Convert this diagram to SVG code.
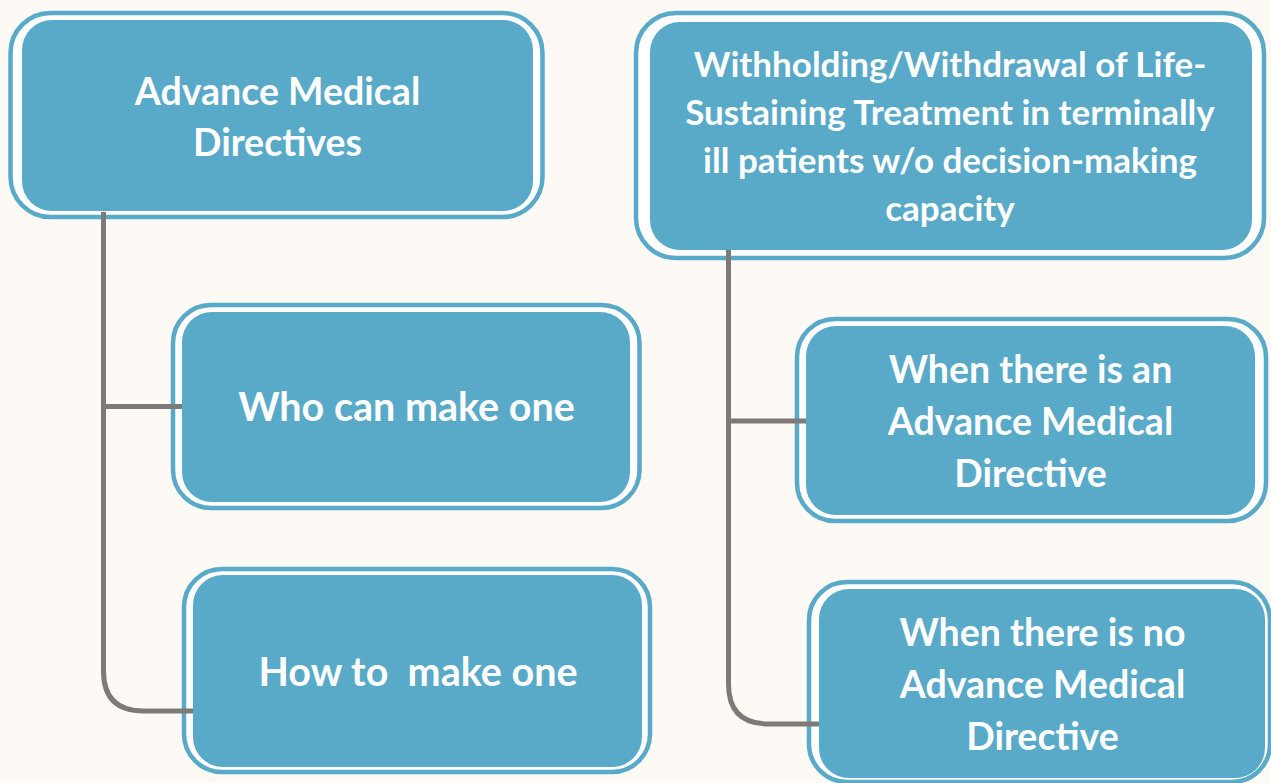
<svg xmlns="http://www.w3.org/2000/svg" width="1271" height="783" viewBox="0 0 1271 783">
<style>
.ring{fill:#ffffff;stroke:#59a9c8;stroke-width:4.5}
.fill{fill:#59a9c8}
.conn{fill:none;stroke:#7e7a77;stroke-width:5}
.t{font-family:Lato,"Noto Sans",sans-serif;font-weight:bold;fill:#ffffff;text-anchor:middle;white-space:pre}
.t1{font-size:37.5px}
.t2{font-size:35px}
.t3{font-size:39.5px}
</style>
<rect x="0" y="0" width="1271" height="783" fill="#fdfaf5"/>
<g id="rings">
<rect class="ring" x="10.5" y="13" width="532" height="204" rx="40"/>
<rect class="ring" x="173" y="305" width="466.5" height="203" rx="38"/>
<rect class="ring" x="184" y="569" width="466" height="203" rx="38"/>
<rect class="ring" x="636" y="13" width="628" height="245" rx="40"/>
<rect class="ring" x="797" y="319" width="469" height="202" rx="38"/>
<rect class="ring" x="809" y="582" width="461" height="200" rx="38"/>
</g>
<g id="connectors">
<path class="conn" d="M103.5 212 V671 Q103.5 711 143.5 711 H194"/>
<path class="conn" d="M103.5 406.5 H183"/>
<path class="conn" d="M728.5 250 V684 Q728.5 724 768.5 724 H820"/>
<path class="conn" d="M728.5 421 H807"/>
</g>
<g id="node-amd">
<rect class="fill" x="22" y="20" width="511" height="191" rx="30"/>
<text class="t t1" x="277.5" y="105">Advance Medical</text>
<text class="t t1" x="277.5" y="156">Directives</text>
</g>
<g id="node-who">
<rect class="fill" x="182" y="312" width="448" height="190" rx="30"/>
<text class="t t3" x="406.5" y="421">Who can make one</text>
</g>
<g id="node-how">
<rect class="fill" x="193" y="575" width="449" height="192" rx="30"/>
<text class="t t3" x="418" y="686">How to  make one</text>
</g>
<g id="node-withhold">
<rect class="fill" x="650" y="22" width="602" height="228" rx="30"/>
<text class="t t2" x="950" y="77">Withholding/Withdrawal of Life-</text>
<text class="t t2" x="950" y="125">Sustaining Treatment in terminally</text>
<text class="t t2" x="950" y="173">ill patients w/o decision-making</text>
<text class="t t2" x="950" y="221">capacity</text>
</g>
<g id="node-with-amd">
<rect class="fill" x="806" y="326" width="449" height="189" rx="30"/>
<text class="t t1" x="1030.5" y="383">When there is an</text>
<text class="t t1" x="1030.5" y="435">Advance Medical</text>
<text class="t t1" x="1030.5" y="487">Directive</text>
</g>
<g id="node-no-amd">
<rect class="fill" x="819" y="589" width="446" height="189" rx="30"/>
<text class="t t1" x="1042.5" y="646">When there is no</text>
<text class="t t1" x="1042.5" y="698">Advance Medical</text>
<text class="t t1" x="1042.5" y="750">Directive</text>
</g>
</svg>
